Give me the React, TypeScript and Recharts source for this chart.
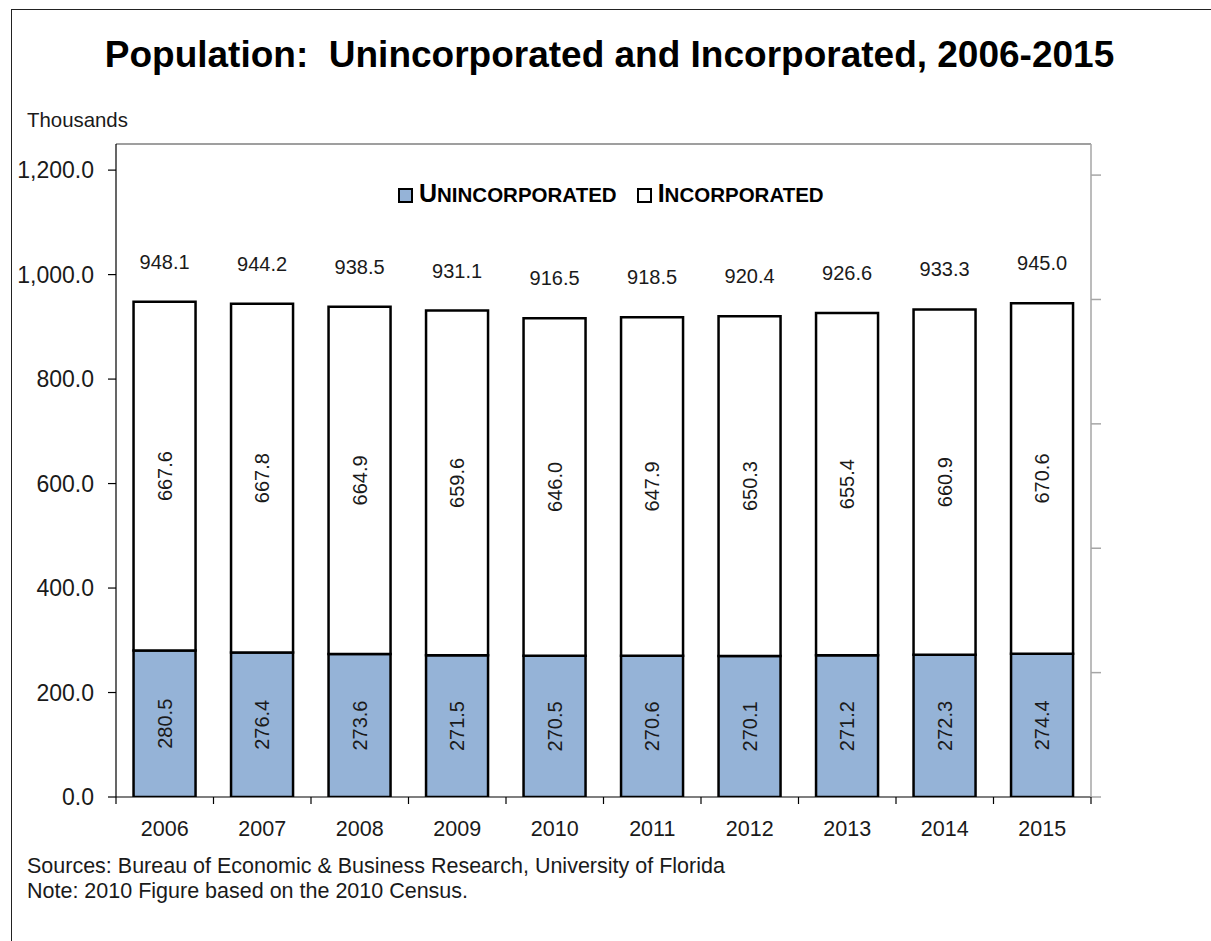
import React from 'react';
import { BarChart, Bar, XAxis, YAxis, Legend, LabelList, ReferenceLine } from 'recharts';

const years = ['2006', '2007', '2008', '2009', '2010', '2011', '2012', '2013', '2014', '2015'];
const unincorporated = [280.5, 276.4, 273.6, 271.5, 270.5, 270.6, 270.1, 271.2, 272.3, 274.4];
const incorporated = [667.6, 667.8, 664.9, 659.6, 646.0, 647.9, 650.3, 655.4, 660.9, 670.6];
const totals = [948.1, 944.2, 938.5, 931.1, 916.5, 918.5, 920.4, 926.6, 933.3, 945.0];
const yTicks = [0, 200, 400, 600, 800, 1000, 1200];
const rightTicks = [0, 0.2, 0.4, 0.6, 0.8, 1.0];

const Y_MAX = 1250;
const FONT = '"Liberation Sans", Arial, Helvetica, sans-serif';
const BLUE = '#95B3D7';
const TEXT = '#1a1a1a';

const W = 1211;
const H = 941;
const MARGIN = { top: 144, right: 100, bottom: 104, left: 16 };
const Y_W = 100;
const YR_W = 20;
const X_H = 40;
const X_TICK_SIZE = 7;
const X_TICK_MARGIN = 17;
const BAND_FALLBACK = (W - MARGIN.left - MARGIN.right - Y_W - YR_W) / years.length;

const data = years.map((y, i) => ({
  year: y,
  unincorporated: unincorporated[i],
  incorporated: incorporated[i],
  total: totals[i],
}));

const fmtY = (v: number) =>
  v.toLocaleString('en-US', { minimumFractionDigits: 1, maximumFractionDigits: 1 });

const XTick = (props: any) => {
  const { x, y, payload, index } = props;
  const half = payload && typeof payload.offset === 'number' && payload.offset > 0 ? payload.offset : BAND_FALLBACK / 2;
  const axisY = y - X_TICK_SIZE - X_TICK_MARGIN;
  const isLast = index === years.length - 1;
  return (
    <g>
      <line x1={x - half} x2={x - half} y1={axisY} y2={axisY + X_TICK_SIZE} stroke="#000" strokeWidth={1.2} />
      {isLast && (
        <line x1={x + half} x2={x + half} y1={axisY} y2={axisY + X_TICK_SIZE} stroke="#000" strokeWidth={1.2} />
      )}
      <text x={x} y={y} dy="0.71em" textAnchor="middle" fontSize={21.5} fontFamily={FONT} fill={TEXT}>
        {payload.value}
      </text>
    </g>
  );
};

const VerticalLabel = (props: any) => {
  const { x, y, width, height, value } = props;
  const cx = Number(x) + Number(width) / 2;
  const cy = Number(y) + Number(height) / 2;
  return (
    <text
      x={cx}
      y={cy}
      transform={`rotate(-90 ${cx} ${cy})`}
      textAnchor="middle"
      dominantBaseline="central"
      fontSize={20}
      fontFamily={FONT}
      fill={TEXT}
    >
      {Number(value).toFixed(1)}
    </text>
  );
};

const TotalLabel = (props: any) => {
  const { x, y, width, value } = props;
  const cx = Number(x) + Number(width) / 2;
  const cy = Number(y) - 40;
  return (
    <text x={cx} y={cy} textAnchor="middle" dominantBaseline="central" fontSize={20} fontFamily={FONT} fill={TEXT}>
      {Number(value).toFixed(1)}
    </text>
  );
};

const swatch = (fill: string) => (
  <span
    style={{
      display: 'inline-block',
      width: 11,
      height: 11,
      border: '2px solid #000',
      background: fill,
      marginRight: 6,
      position: 'relative',
      top: 0,
    }}
  />
);

const renderLegend = () => (
  <div
    style={{
      display: 'flex',
      alignItems: 'center',
      fontFamily: FONT,
      fontWeight: 'bold',
      color: '#000',
      lineHeight: '25px',
      whiteSpace: 'nowrap',
    }}
  >
    {swatch(BLUE)}
    <span>
      <span style={{ fontSize: 25 }}>U</span>
      <span style={{ fontSize: 20.5 }}>NINCORPORATED</span>
    </span>
    <span style={{ display: 'inline-block', width: 20 }} />
    {swatch('#fff')}
    <span>
      <span style={{ fontSize: 25 }}>I</span>
      <span style={{ fontSize: 20.5 }}>NCORPORATED</span>
    </span>
  </div>
);

export default function App() {
  return (
    <div style={{ position: 'absolute', left: 0, top: 0, width: W, height: H, overflow: 'hidden', background: '#fff' }}>
      <div
        style={{
          position: 'absolute',
          left: 11,
          top: 9,
          width: 1400,
          height: 1200,
          borderLeft: '1.5px solid #222',
          borderTop: '1.5px solid #222',
        }}
      />
      <svg width={W} height={H} style={{ position: 'absolute', left: 0, top: 0 }}>
        <text x={609.5} y={66.7} textAnchor="middle" fontSize={37} fontWeight="bold" fontFamily={FONT} fill="#000">
          Population:{'\u00A0\u00A0'}Unincorporated and Incorporated, 2006-2015
        </text>
        <text x={27} y={127} fontSize={20.4} fontFamily={FONT} fill={TEXT}>
          Thousands
        </text>
        <text x={27} y={873} fontSize={21.5} fontFamily={FONT} fill={TEXT}>
          Sources: Bureau of Economic &amp; Business Research, University of Florida
        </text>
        <text x={27} y={898} fontSize={21.5} fontFamily={FONT} fill={TEXT}>
          Note: 2010 Figure based on the 2010 Census.
        </text>
      </svg>
      <div style={{ position: 'absolute', left: 0, top: 0 }}>
        <BarChart width={W} height={H} data={data} margin={MARGIN} barCategoryGap="18%">
          <XAxis
            dataKey="year"
            yAxisId="left"
            height={X_H}
            axisLine={{ stroke: '#000', strokeWidth: 1.2 }}
            tickLine={false}
            tickSize={X_TICK_SIZE}
            tickMargin={X_TICK_MARGIN}
            interval={0}
            tick={<XTick />}
          />
          <YAxis
            yAxisId="left"
            orientation="left"
            width={Y_W}
            domain={[0, Y_MAX]}
            ticks={yTicks}
            interval={0}
            tickFormatter={fmtY}
            axisLine={{ stroke: '#000', strokeWidth: 1.2 }}
            tickLine={{ stroke: '#000', strokeWidth: 1.2 }}
            tickSize={8}
            tickMargin={14}
            tick={{ fill: TEXT, fontSize: 23, fontFamily: FONT }}
            allowDataOverflow
          />
          <YAxis
            yAxisId="right"
            orientation="right"
            width={YR_W}
            domain={[0, 1.05]}
            ticks={rightTicks}
            interval={0}
            tickFormatter={() => ''}
            axisLine={{ stroke: '#a6a6a6', strokeWidth: 1.5 }}
            tickLine={{ stroke: '#a6a6a6', strokeWidth: 1.5 }}
            tickSize={10}
            allowDataOverflow
          />
          <ReferenceLine yAxisId="left" y={Y_MAX} stroke="#404040" strokeWidth={1.2} ifOverflow="visible" />
          <Legend
            layout="horizontal"
            verticalAlign="middle"
            align="center"
            content={renderLegend}
            wrapperStyle={{ position: 'absolute', left: 398, top: 181, width: 'auto' }}
          />
          <Bar
            yAxisId="left"
            dataKey="unincorporated"
            name="Unincorporated"
            stackId="a"
            fill={BLUE}
            stroke="#000"
            strokeWidth={2.5}
            isAnimationActive={false}
          >
            <LabelList dataKey="unincorporated" content={<VerticalLabel />} />
          </Bar>
          <Bar
            yAxisId="left"
            dataKey="incorporated"
            name="Incorporated"
            stackId="a"
            fill="#fff"
            stroke="#000"
            strokeWidth={2.5}
            isAnimationActive={false}
          >
            <LabelList dataKey="incorporated" content={<VerticalLabel />} />
            <LabelList dataKey="total" content={<TotalLabel />} />
          </Bar>
        </BarChart>
      </div>
    </div>
  );
}
